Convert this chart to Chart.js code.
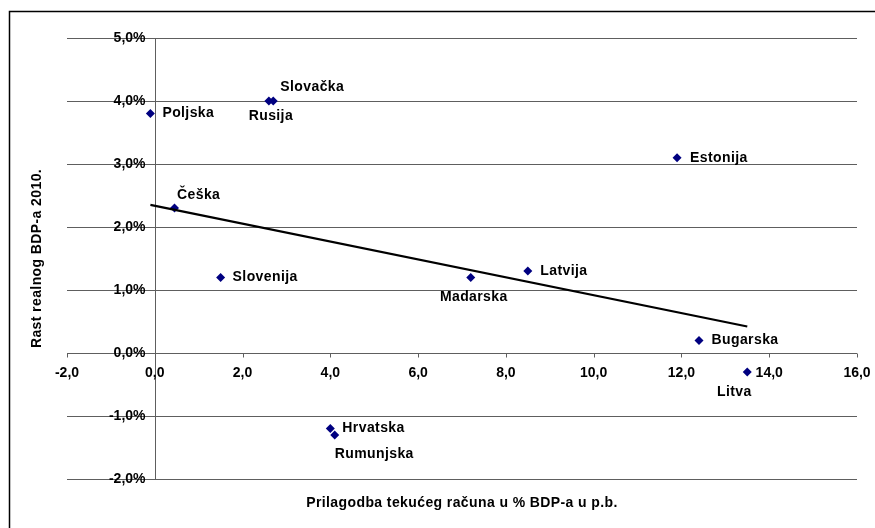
<!DOCTYPE html>
<html>
<head>
<meta charset="utf-8">
<script src="https://cdn.jsdelivr.net/npm/chart.js@4"></script>
<style>
  html, body { margin: 0; padding: 0; background: #ffffff; }
  #wrap { width: 875px; height: 528px; position: relative; }
</style>
</head>
<body>
<div id="wrap"><canvas id="chart" width="875" height="528"></canvas></div>
<script>
// Countries and their values
const countries = ['Poljska', 'Slovačka', 'Rusija', 'Estonija', 'Češka', 'Slovenija',
                   'Madarska', 'Latvija', 'Bugarska', 'Litva', 'Hrvatska', 'Rumunjska'];
// Current-account adjustment, % of GDP (p.p.)
const accountAdjustment = [-0.1, 2.7, 2.6, 11.9, 0.45, 1.5, 7.2, 8.5, 12.4, 13.5, 4.0, 4.1];
// Real GDP growth 2010, %
const gdpGrowth = [3.8, 4.0, 4.0, 3.1, 2.3, 1.2, 1.2, 1.3, 0.2, -0.3, -1.2, -1.3];
// Linear trend line end points
const trendX = [-0.1, 13.5];
const trendY = [2.35, 0.42];
// Axis tick values
const xTicks = [-2, 0, 2, 4, 6, 8, 10, 12, 14, 16];
const yTicks = [-2, -1, 0, 1, 2, 3, 4, 5];

// Where each country's label sits relative to its marker
const labelPlacement = [
  { dx: 12, dy: 0, align: 'left' },     // Poljska
  { dx: 7, dy: -13.5, align: 'left' },  // Slovačka
  { dx: 2, dy: 15.5, align: 'center' }, // Rusija
  { dx: 13, dy: 0, align: 'left' },     // Estonija
  { dx: 2.5, dy: -13, align: 'left' },  // Češka
  { dx: 12, dy: 0, align: 'left' },     // Slovenija
  { dx: 3, dy: 20, align: 'center' },   // Madarska
  { dx: 12.5, dy: 0, align: 'left' },   // Latvija
  { dx: 12.5, dy: 0, align: 'left' },   // Bugarska
  { dx: -13, dy: 20, align: 'center' }, // Litva
  { dx: 12, dy: 0, align: 'left' },     // Hrvatska
  { dx: 0, dy: 19, align: 'left' }      // Rumunjska
];

const FONT = 'bold 14px "Liberation Sans", Arial, sans-serif';
const AXIS_COLOR = '#5e5e5e';
const SPACING = '0.4px';
const fmt = (v) => v.toFixed(1).replace('.', ',');

const points = countries.map((c, i) => ({ x: accountAdjustment[i], y: gdpGrowth[i] }));
const trend = trendX.map((x, i) => ({ x: x, y: trendY[i] }));

// Axes crossing at zero, tick marks, tick labels, point labels, titles and frame
const decorations = {
  id: 'decorations',
  beforeDatasetsDraw(chart) {
    const { ctx, chartArea, scales: { x, y } } = chart;
    const x0 = Math.round(x.getPixelForValue(0)) + 0.5;
    const y0 = Math.round(y.getPixelForValue(0)) + 0.5;
    ctx.save();
    ctx.strokeStyle = AXIS_COLOR;
    ctx.lineWidth = 1;
    ctx.beginPath();
    // vertical axis at x = 0
    ctx.moveTo(x0, chartArea.top);
    ctx.lineTo(x0, chartArea.bottom);
    // horizontal axis at y = 0
    ctx.moveTo(chartArea.left, y0);
    ctx.lineTo(chartArea.right, y0);
    // tick marks
    yTicks.forEach(v => {
      const py = Math.round(y.getPixelForValue(v)) + 0.5;
      ctx.moveTo(x0 - 4, py);
      ctx.lineTo(x0, py);
    });
    xTicks.forEach(v => {
      const px = Math.round(x.getPixelForValue(v)) + 0.5;
      ctx.moveTo(px, y0);
      ctx.lineTo(px, y0 + 4);
    });
    ctx.stroke();

    // tick labels
    ctx.fillStyle = '#000';
    ctx.font = FONT;
    ctx.textBaseline = 'middle';
    ctx.textAlign = 'right';
    yTicks.forEach(v => {
      ctx.fillText(fmt(v) + '%', x0 - 10, y.getPixelForValue(v));
    });
    ctx.textAlign = 'center';
    xTicks.forEach(v => {
      ctx.fillText(fmt(v), x.getPixelForValue(v), y0 + 20);
    });
    ctx.restore();
  },
  afterDraw(chart) {
    const { ctx, chartArea } = chart;
    const meta = chart.getDatasetMeta(1);
    ctx.save();
    ctx.fillStyle = '#000';
    ctx.font = FONT;
    ctx.letterSpacing = SPACING;
    ctx.textBaseline = 'middle';
    meta.data.forEach((el, i) => {
      const p = labelPlacement[i];
      ctx.textAlign = p.align;
      ctx.fillText(countries[i], el.x + p.dx, el.y + p.dy);
    });

    // axis titles
    ctx.textAlign = 'center';
    ctx.fillText('Prilagodba tekućeg računa u % BDP-a u p.b.', 462, 503);
    ctx.translate(37, (chartArea.top + chartArea.bottom) / 2);
    ctx.rotate(-Math.PI / 2);
    ctx.fillText('Rast realnog BDP-a 2010.', 0, 0);
    ctx.restore();

    // outer frame
    ctx.save();
    ctx.strokeStyle = '#000';
    ctx.lineWidth = 1.5;
    ctx.strokeRect(9.5, 11.5, 900, 600);
    ctx.restore();
  }
};

new Chart(document.getElementById('chart'), {
  type: 'scatter',
  data: {
    datasets: [
      {
        type: 'line',
        label: 'Trend',
        data: trend,
        borderColor: '#000000',
        borderWidth: 2.2,
        pointRadius: 0,
        fill: false,
        tension: 0
      },
      {
        label: 'Zemlje',
        data: points,
        pointStyle: 'rectRot',
        pointRadius: 4.5,
        pointHoverRadius: 4.5,
        backgroundColor: '#000080',
        borderColor: '#000080',
        borderWidth: 0
      }
    ]
  },
  options: {
    responsive: false,
    animation: false,
    events: [],
    layout: { padding: { left: 67, right: 18, top: 38, bottom: 49 } },
    plugins: {
      legend: { display: false },
      tooltip: { enabled: false },
      title: { display: false }
    },
    scales: {
      x: {
        type: 'linear',
        min: -2,
        max: 16,
        ticks: { display: false, stepSize: 2 },
        grid: { display: false, drawTicks: false },
        border: { display: false }
      },
      y: {
        type: 'linear',
        min: -2,
        max: 5,
        ticks: { display: false, stepSize: 1 },
        grid: { color: AXIS_COLOR, lineWidth: 1, drawTicks: false },
        border: { display: false }
      }
    }
  },
  plugins: [decorations]
});
</script>
</body>
</html>
